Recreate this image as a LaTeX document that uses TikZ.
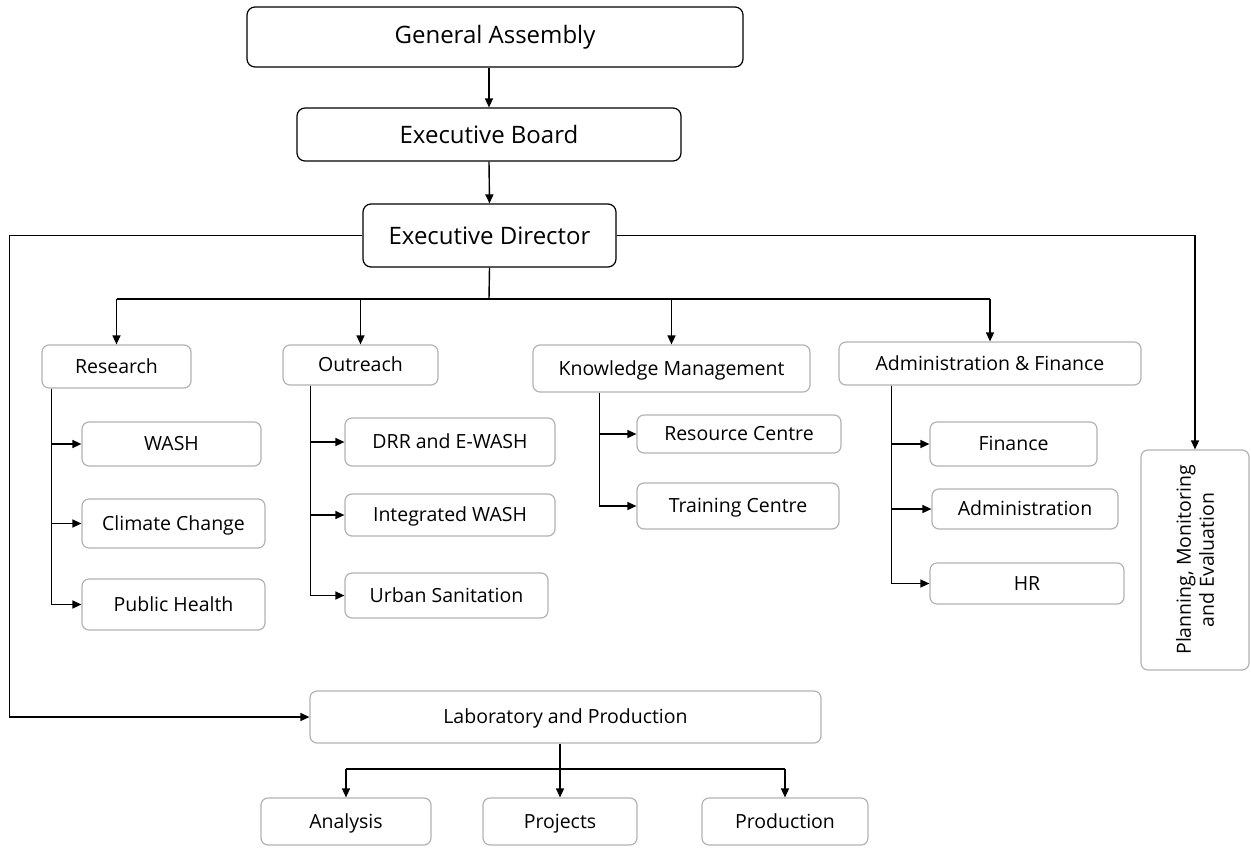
\documentclass[tikz,border=0pt]{standalone}
\usepackage{fontspec}
\setmainfont{Open Sans}
\usetikzlibrary{arrows.meta,positioning,calc}

\tikzset{
  >={Triangle[length=9pt,width=8pt]},
  topbox/.style={draw=black, line width=1.2pt, rounded corners=8pt, inner sep=0pt,
    font=\fontsize{24}{28}\selectfont},
  unitbox/.style={draw=black!30, line width=1.2pt, rounded corners=7pt, inner sep=0pt,
    font=\fontsize{19.5}{23}\selectfont},
  unit/.style={unitbox, text height=17.5pt, text depth=3.7pt},
  link/.style={->, line width=1.4pt},
  wire/.style={line width=1.4pt},
}

\begin{document}
\begin{tikzpicture}[x=1pt,y=-1pt]
    \useasboundingbox (0,0) rectangle (1251,847);

    % governance
    \node[topbox, minimum width=496pt, minimum height=60pt] (ga) at (495,37) {General Assembly};
    \node[topbox, minimum width=384pt, minimum height=53pt] (eb) at (489,134.5) {Executive Board};
    \node[topbox, minimum width=253pt, minimum height=63pt] (ed) at (489.5,235.5) {Executive Director};

    % departments
    \node[unit, minimum width=149pt, minimum height=43pt] (res) at (116.5,366.5) {Research};
    \node[unit, minimum width=155pt, minimum height=40pt] (out) at (360.5,365) {Outreach};
    \node[unit, minimum width=277pt, minimum height=47pt] (km) at (671.5,368.5) {Knowledge Management};
    \node[unit, minimum width=302pt, minimum height=43pt] (af) at (990,363.5) {Administration \& Finance};

    % units
    \node[unit, minimum width=179pt, minimum height=44pt] (wash) at (171.5,444) {WASH};
    \node[unit, minimum width=183pt, minimum height=49pt] (cc) at (173.5,523.5) {Climate Change};
    \node[unit, minimum width=183pt, minimum height=51pt] (ph) at (173.5,604.5) {Public Health};
    \node[unit, minimum width=210pt, minimum height=48pt] (drr) at (450,442) {DRR and E-WASH};
    \node[unit, minimum width=210pt, minimum height=42pt] (iw) at (450,515) {Integrated WASH};
    \node[unit, minimum width=203pt, minimum height=45pt] (us) at (446.5,595.5) {Urban Sanitation};
    \node[unit, minimum width=204pt, minimum height=38pt] (rc) at (739,434) {Resource Centre};
    \node[unit, minimum width=202pt, minimum height=46pt] (tc) at (738,506) {Training Centre};
    \node[unit, minimum width=167pt, minimum height=44pt] (fin) at (1013.5,444) {Finance};
    \node[unit, minimum width=186pt, minimum height=40pt] (adm) at (1025,509) {Administration};
    \node[unit, minimum width=194pt, minimum height=41pt] (hr) at (1027,583.5) {HR};
    \node[unitbox, rotate=90, align=center, minimum width=220pt, minimum height=108pt] (pme) at (1195,560)
        {Planning, Monitoring\\and Evaluation};

    % laboratory
    \node[unit, minimum width=511pt, minimum height=52pt] (lab) at (565.5,717) {Laboratory and Production};
    \node[unit, minimum width=170pt, minimum height=47pt] (ana) at (346,821.5) {Analysis};
    \node[unit, minimum width=154pt, minimum height=47pt] (prj) at (560,821.5) {Projects};
    \node[unit, minimum width=166pt, minimum height=47pt] (prd) at (785,821.5) {Production};

    % top chain
    \draw[link] (ga.south -| eb.north) -- (eb.north);
    \draw[link] (eb.south) -- (ed.south |- ed.north);

    % department bus
    \coordinate (bus) at (489,299);
    \draw[wire] (ed.south) -- (bus);
    \draw[wire] (res.north |- bus) -- (af.north |- bus);
    \foreach \d in {res,out,km,af}
        \draw[link] (\d.north |- bus) -- (\d.north);

    % side lines
    \draw[link] (ed.west) -- ++(-353,0) |- (lab.west);
    \draw[link] (ed.east) -| (pme.east);

    % units under departments
    \foreach \u in {wash,cc,ph}
        \draw[link] ($(res.south west)+(10,0)$) |- (\u.west);
    \foreach \u in {drr,iw,us}
        \draw[link] ($(out.south west)+(28,0)$) |- (\u.west);
    \foreach \u in {rc,tc}
        \draw[link] ($(km.south west)+(67,0)$) |- (\u.west);
    \foreach \u in {fin,adm,hr}
        \draw[link] ($(af.south west)+(53,0)$) |- (\u.west);

    % laboratory units
    \coordinate (lbus) at (560,769);
    \draw[wire] (ana.north |- lbus) -- (prd.north |- lbus);
    \draw[link] (lab.south -| prj.north) -- (prj.north);
    \draw[link] (ana.north |- lbus) -- (ana.north);
    \draw[link] (prd.north |- lbus) -- (prd.north);
\end{tikzpicture}
\end{document}
